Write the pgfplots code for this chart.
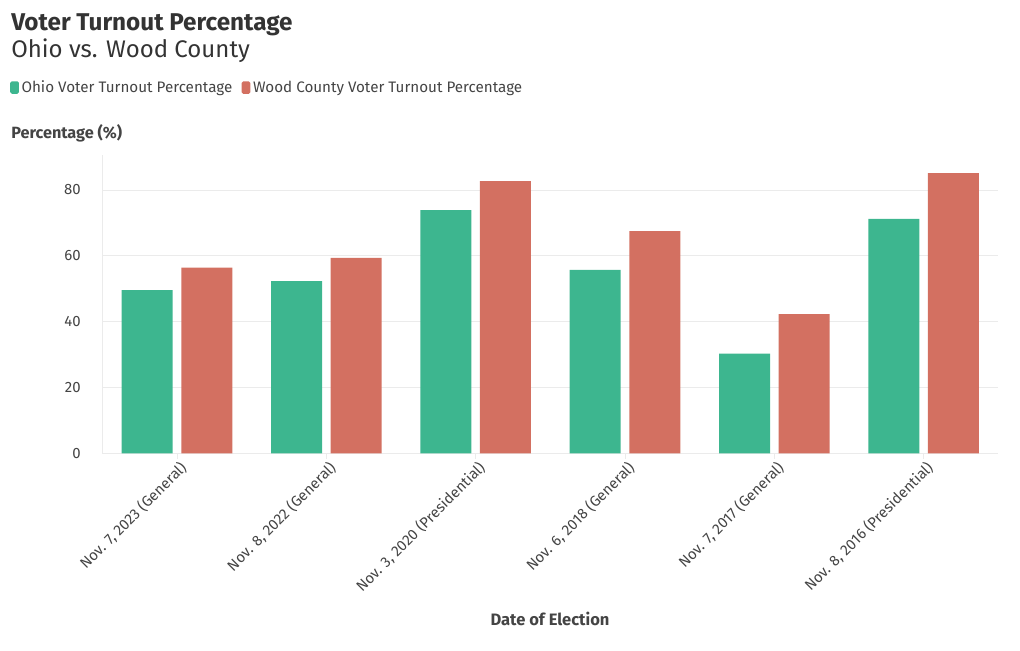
\documentclass[border=0pt]{standalone}
\usepackage{fontspec}
\setmainfont{Fira Sans}
\usepackage{pgfplots}
\pgfplotsset{compat=1.18}
\definecolor{ohio}{RGB}{61,182,143}
\definecolor{wood}{RGB}{211,112,97}
\definecolor{gridc}{RGB}{235,235,235}
\definecolor{txt}{RGB}{51,51,51}
\definecolor{tick}{RGB}{68,68,68}
\begin{document}
\begin{tikzpicture}
\path[use as bounding box] (0,0) rectangle (765pt,487.5pt);
\node[anchor=base west, text=txt, font=\fontsize{18.2}{21}\selectfont\bfseries, inner sep=0pt] at (8.25pt,464.25pt) {Voter Turnout Percentage};
\node[anchor=base west, text=txt, font=\fontsize{18}{21}\selectfont, inner sep=0pt] at (8.25pt,444pt) {Ohio vs. Wood County};
\node[anchor=base west, text=tick, font=\fontsize{12.2}{14}\selectfont\bfseries, inner sep=0pt] at (8.25pt,383.25pt) {Percentage (\%)};
\node[anchor=base, text=tick, font=\fontsize{12.4}{14}\selectfont\bfseries, inner sep=0pt] at (412.5pt,18.75pt) {Date of Election};
\begin{axis}[
  at={(76.5pt,147.5pt)}, anchor=south west,
  scale only axis, width=672pt, height=223.7pt,
  xmin=-0.5, xmax=5.5, ymin=0, ymax=90.6,
  axis x line*=bottom, axis y line*=left,
  axis line style={draw=gridc, -},
  xtick={0,1,2,3,4,5},
  xticklabels={{Nov. 7, 2023 (General)},{Nov. 8, 2022 (General)},{Nov. 3, 2020 (Presidential)},{Nov. 6, 2018 (General)},{Nov. 7, 2017 (General)},{Nov. 8, 2016 (Presidential)}},
  xticklabel style={rotate=45, anchor=north east, font=\fontsize{11.2}{13}\selectfont, text=tick, xshift=4pt, yshift=2pt},
  xtick style={draw=gridc}, major tick length=4pt, tick align=outside,
  ytick={0,20,40,60,80},
  ytick style={draw=none},
  yticklabel style={font=\fontsize{11.2}{13}\selectfont, text=tick, xshift=-8.5pt},
  /pgf/number format/assume math mode=true,
  ymajorgrids, grid style={draw=gridc, line width=0.6pt},
  legend style={at={(-0.1027,1.2263)}, anchor=west, draw=none, fill=none, font=\fontsize{11.4}{13}\selectfont, text=tick, legend columns=2, /tikz/every even column/.append style={column sep=5pt}, inner sep=0pt},
  legend image code/.code={\fill[#1, draw=none, rounded corners=1.2pt] (0pt,-4.7pt) rectangle (6.5pt,4.7pt);},
]
\addplot[ybar, bar width=38.25pt, bar shift=-22.1pt, fill=ohio, draw=none] coordinates {(0,49.6) (1,52.3) (2,73.9) (3,55.7) (4,30.3) (5,71.2)};
\addlegendentry{Ohio Voter Turnout Percentage}
\addplot[ybar, bar width=38.25pt, bar shift=22.6pt, fill=wood, draw=none] coordinates {(0,56.4) (1,59.4) (2,82.7) (3,67.5) (4,42.3) (5,85.1)};
\addlegendentry{Wood County Voter Turnout Percentage}
\end{axis}
\end{tikzpicture}
\end{document}
